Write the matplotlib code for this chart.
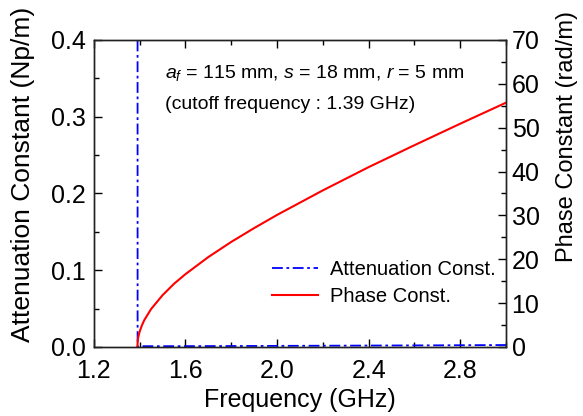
import numpy as np
import matplotlib.pyplot as plt
from matplotlib.ticker import MultipleLocator

plt.rcParams['font.family'] = ['Liberation Sans', 'DejaVu Sans']
plt.rcParams['mathtext.fontset'] = 'custom'
plt.rcParams['mathtext.rm'] = 'Liberation Sans'
plt.rcParams['mathtext.it'] = 'Liberation Sans:italic'

# phase constant (GHz, rad/m)
freq_ph = [1.39, 1.392, 1.395, 1.40, 1.41, 1.42, 1.45, 1.50, 1.55, 1.60, 1.70, 1.80,
           1.90, 2.00, 2.20, 2.40, 2.60, 2.80, 3.00]
phase = [0.0, 1.6, 2.5, 3.5, 4.95, 6.1, 8.65, 11.8, 14.4, 16.6, 20.5, 23.95,
         27.1, 30.1, 35.7, 41.0, 46.0, 50.9, 55.7]

# attenuation constant (GHz, Np/m): huge below cutoff, ~0 above
freq_at = [1.20, 1.389, 1.391, 1.40, 1.50, 1.80, 2.10, 2.40, 2.70, 3.00]
atten = [5.0, 5.0, 0.0, 0.001, 0.001, 0.0012, 0.0015, 0.0018, 0.0021, 0.0025]

fig = plt.figure(figsize=(5.83, 4.16), dpi=100)
ax = fig.add_axes([0.161, 0.166, 0.707, 0.738])
ax2 = ax.twinx()

l1, = ax.plot(freq_at, atten, color='#0000ff', lw=1.3, ls=(0, (6, 2, 1.5, 2)),
              label='Attenuation Const.')
l2, = ax2.plot(freq_ph, phase, color='#ff0000', lw=1.5, label='Phase Const.')

ax.set_xlim(1.2, 3.0)
ax.set_ylim(0, 0.4)
ax2.set_ylim(0, 70)

ax.xaxis.set_major_locator(MultipleLocator(0.4))
ax.xaxis.set_minor_locator(MultipleLocator(0.2))
ax.yaxis.set_major_locator(MultipleLocator(0.1))
ax.yaxis.set_minor_locator(MultipleLocator(0.05))
ax2.yaxis.set_major_locator(MultipleLocator(10))
ax2.yaxis.set_minor_locator(MultipleLocator(5))

ax.tick_params(which='both', direction='in', top=True, right=False, labelsize=18)
ax.tick_params(which='major', length=6, width=1)
ax.tick_params(which='minor', length=3.5, width=1)
ax.tick_params(axis='x', pad=9)
ax.tick_params(axis='y', pad=6)
ax2.tick_params(which='both', direction='in', labelsize=18, pad=4)
ax2.tick_params(which='major', length=6, width=1)
ax2.tick_params(which='minor', length=3.5, width=1)
ax.set_xticks([1.2, 1.6, 2.0, 2.4, 2.8])
ax.set_xticklabels(['1.2', '1.6', '2.0', '2.4', '2.8'])

ax.set_xlabel('Frequency (GHz)', fontsize=18, labelpad=3)
ax.set_ylabel('Attenuation Constant (Np/m)', fontsize=19)
ax2.set_ylabel('Phase Constant (rad/m)', fontsize=17)
ax.yaxis.set_label_coords(-0.143, 0.563)
ax2.yaxis.set_label_coords(1.121, 0.687)

for a in (ax, ax2):
    for s in a.spines.values():
        s.set_color('#222222')
        s.set_linewidth(1)

ax.text(0.172, 0.875, r'$a_f$ = 115 mm, $s$ = 18 mm, $r$ = 5 mm', transform=ax.transAxes,
        fontsize=14)
ax.text(0.172, 0.775, '(cutoff frequency : 1.39 GHz)', transform=ax.transAxes,
        fontsize=14)

ax.legend([l1, l2], ['Attenuation Const.', 'Phase Const.'], loc='lower right',
          bbox_to_anchor=(1.02, 0.075), frameon=False, fontsize=14.5, handlelength=2.3,
          handletextpad=0.6, labelspacing=0.4)

fig.savefig('out.png', dpi=100)
